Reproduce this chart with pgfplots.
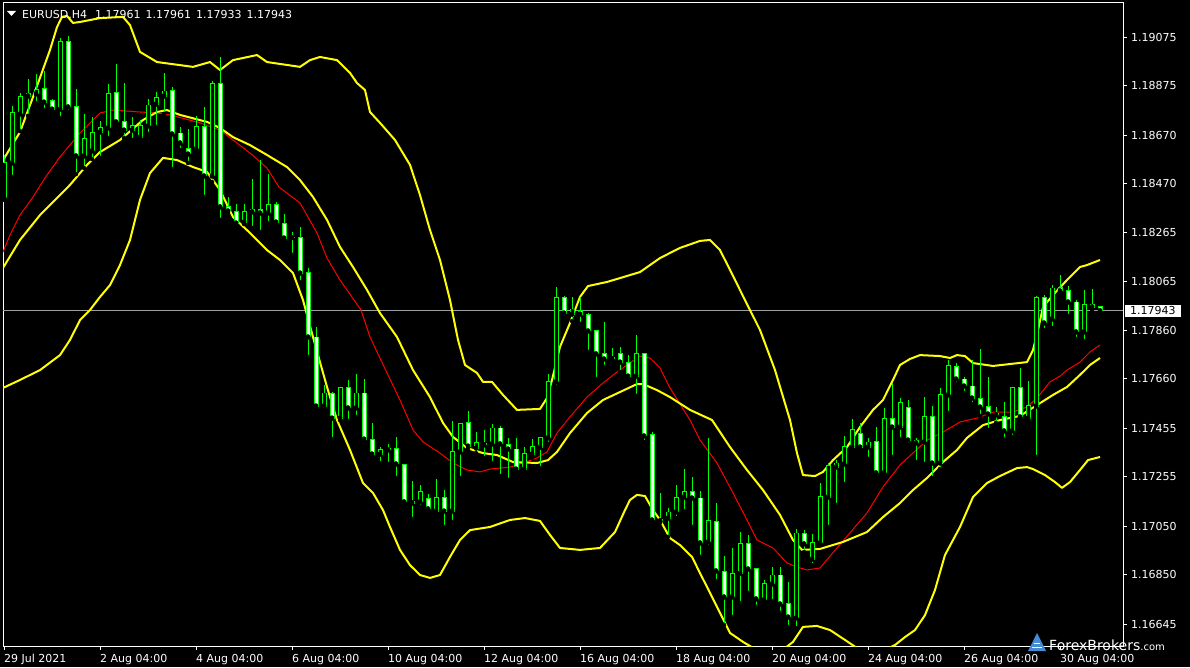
\documentclass[border=0pt]{standalone}
\usepackage{pgfplots}
\pgfplotsset{compat=1.18}
\usepackage{pgfplotstable}
\usepackage{fontspec}
\setmainfont{DejaVu Sans}
\newcommand{\lbl}{\fontsize{11}{13}\selectfont}
\definecolor{mtgreen}{RGB}{0,255,0}
\definecolor{mtyellow}{RGB}{255,255,0}
\definecolor{mtred}{RGB}{255,0,0}
\definecolor{pricegray}{RGB}{160,160,160}
\definecolor{fxblue}{RGB}{70,140,210}

\pgfplotstableread{
i O H L C
0 1.18410 1.18588 1.18402 1.18555
1 1.18555 1.18791 1.18497 1.18762
2 1.18758 1.18845 1.18687 1.18832
3 1.18832 1.18903 1.18750 1.18841
4 1.18841 1.18924 1.18803 1.18861
5 1.18865 1.18936 1.18774 1.18807
6 1.18812 1.18820 1.18766 1.18778
7 1.18778 1.19073 1.18741 1.19060
8 1.19060 1.19081 1.18766 1.18787
9 1.18787 1.18861 1.18509 1.18584
10 1.18584 1.18758 1.18534 1.18658
11 1.18605 1.18745 1.18571 1.18683
12 1.18683 1.18729 1.18576 1.18700
13 1.18700 1.18882 1.18658 1.18841
14 1.18845 1.18965 1.18708 1.18725
15 1.18725 1.18886 1.18658 1.18691
16 1.18691 1.18745 1.18650 1.18712
17 1.18662 1.18733 1.18650 1.18712
18 1.18708 1.18820 1.18675 1.18795
19 1.18799 1.18849 1.18704 1.18828
20 1.18832 1.18928 1.18758 1.18853
21 1.18857 1.18870 1.18530 1.18675
22 1.18679 1.18704 1.18609 1.18638
23 1.18613 1.18696 1.18555 1.18592
24 1.18613 1.18750 1.18600 1.18704
25 1.18704 1.18787 1.18414 1.18501
26 1.18501 1.18895 1.18476 1.18886
27 1.18886 1.18994 1.18319 1.18373
28 1.18373 1.18414 1.18348 1.18356
29 1.18352 1.18385 1.18298 1.18306
30 1.18310 1.18385 1.18302 1.18352
31 1.18352 1.18489 1.18286 1.18364
32 1.18364 1.18567 1.18269 1.18348
33 1.18348 1.18509 1.18306 1.18381
34 1.18381 1.18393 1.18294 1.18310
35 1.18306 1.18344 1.18236 1.18244
36 1.18248 1.18269 1.18174 1.18246
37 1.18248 1.18290 1.18062 1.18099
38 1.18103 1.18120 1.17751 1.17834
39 1.17834 1.17875 1.17532 1.17548
40 1.17548 1.17635 1.17540 1.17602
41 1.17598 1.17606 1.17411 1.17498
42 1.17498 1.17627 1.17490 1.17623
43 1.17623 1.17656 1.17486 1.17540
44 1.17540 1.17681 1.17503 1.17602
45 1.17602 1.17660 1.17395 1.17411
46 1.17411 1.17478 1.17333 1.17349
47 1.17349 1.17378 1.17312 1.17366
48 1.17374 1.17391 1.17308 1.17366
49 1.17374 1.17420 1.17250 1.17308
50 1.17304 1.17308 1.17142 1.17151
51 1.17151 1.17238 1.17080 1.17146
52 1.17151 1.17221 1.17130 1.17192
53 1.17163 1.17184 1.17105 1.17122
54 1.17113 1.17246 1.17105 1.17171
55 1.17171 1.17200 1.17047 1.17113
56 1.17113 1.17486 1.17068 1.17358
57 1.17358 1.17478 1.17250 1.17474
58 1.17478 1.17527 1.17370 1.17382
59 1.17374 1.17440 1.17353 1.17395
60 1.17387 1.17449 1.17333 1.17391
61 1.17391 1.17474 1.17312 1.17457
62 1.17457 1.17465 1.17258 1.17391
63 1.17387 1.17416 1.17242 1.17370
64 1.17370 1.17416 1.17275 1.17287
65 1.17287 1.17378 1.17271 1.17353
66 1.17349 1.17411 1.17333 1.17382
67 1.17378 1.17420 1.17291 1.17416
68 1.17416 1.17681 1.17391 1.17648
69 1.17648 1.18041 1.17627 1.17996
70 1.17996 1.18004 1.17913 1.17933
71 1.17929 1.18000 1.17900 1.17950
72 1.17942 1.18000 1.17888 1.17929
73 1.17929 1.17933 1.17772 1.17859
74 1.17859 1.17863 1.17660 1.17764
75 1.17764 1.17896 1.17710 1.17743
76 1.17743 1.17788 1.17730 1.17751
77 1.17764 1.17793 1.17689 1.17730
78 1.17730 1.17759 1.17660 1.17672
79 1.17672 1.17842 1.17590 1.17764
80 1.17764 1.17768 1.17399 1.17424
81 1.17432 1.17440 1.17072 1.17076
82 1.17076 1.17188 1.17064 1.17072
83 1.17084 1.17126 1.17006 1.17109
84 1.17109 1.17221 1.17084 1.17171
85 1.17171 1.17287 1.17113 1.17192
86 1.17192 1.17254 1.17047 1.17167
87 1.17167 1.17196 1.16923 1.16981
88 1.16985 1.17416 1.16964 1.17072
89 1.17068 1.17146 1.16823 1.16865
90 1.16861 1.16927 1.16641 1.16757
91 1.16757 1.16960 1.16674 1.16856
92 1.16856 1.17026 1.16732 1.16977
93 1.16977 1.17014 1.16774 1.16873
94 1.16873 1.16877 1.16716 1.16749
95 1.16745 1.16827 1.16736 1.16811
96 1.16811 1.16881 1.16740 1.16848
97 1.16848 1.16881 1.16691 1.16728
98 1.16728 1.16819 1.16633 1.16674
99 1.16670 1.17039 1.16628 1.17022
100 1.17018 1.17034 1.16943 1.16977
101 1.16914 1.17018 1.16889 1.16981
102 1.16981 1.17229 1.16972 1.17175
103 1.17171 1.17312 1.17047 1.17300
104 1.17295 1.17324 1.17138 1.17312
105 1.17308 1.17424 1.17225 1.17382
106 1.17378 1.17494 1.17370 1.17449
107 1.17436 1.17478 1.17370 1.17378
108 1.17378 1.17416 1.17329 1.17399
109 1.17403 1.17461 1.17258 1.17271
110 1.17271 1.17540 1.17262 1.17498
111 1.17498 1.17643 1.17337 1.17461
112 1.17461 1.17581 1.17411 1.17561
113 1.17540 1.17573 1.17387 1.17407
114 1.17407 1.17416 1.17316 1.17395
115 1.17399 1.17585 1.17308 1.17503
116 1.17503 1.17548 1.17250 1.17312
117 1.17312 1.17623 1.17287 1.17594
118 1.17594 1.17739 1.17519 1.17714
119 1.17710 1.17726 1.17639 1.17660
120 1.17660 1.17668 1.17602 1.17631
121 1.17631 1.17739 1.17556 1.17581
122 1.17581 1.17784 1.17507 1.17544
123 1.17548 1.17668 1.17449 1.17515
124 1.17519 1.17544 1.17478 1.17511
125 1.17503 1.17565 1.17411 1.17445
126 1.17445 1.17627 1.17420 1.17623
127 1.17623 1.17706 1.17494 1.17503
128 1.17498 1.17652 1.17486 1.17552
129 1.17548 1.18004 1.17337 1.17996
130 1.17996 1.18008 1.17863 1.17892
131 1.17909 1.18049 1.17871 1.18037
132 1.18041 1.18091 1.18008 1.18025
133 1.18025 1.18045 1.17921 1.17979
134 1.17979 1.17987 1.17826 1.17855
135 1.17855 1.18029 1.17817 1.17967
136 1.17967 1.18033 1.17946 1.17958
137 1.17961 1.17961 1.17933 1.17943
}\candles

\pgfplotstableread{
i p
-0.125 1.18559
0.125 1.18580
2 1.18683
3.625 1.18828
5.75 1.19023
6.625 1.19118
7.25 1.19160
7.875 1.19164
8.625 1.19135
9.5 1.19139
12 1.19155
14.875 1.19160
15.75 1.19126
17 1.19015
19.125 1.18973
23.625 1.18953
25.75 1.18973
27 1.18940
28.625 1.18981
31.625 1.19002
32.875 1.18973
37 1.18953
38.25 1.18981
39.5 1.18994
41.625 1.18981
43.25 1.18928
44.125 1.18886
45.125 1.18857
45.75 1.18766
47 1.18721
48.875 1.18650
50.75 1.18547
52 1.18422
53.25 1.18277
54.5 1.18153
55.75 1.17987
56.75 1.17822
57.625 1.17718
59.125 1.17685
59.875 1.17648
61 1.17648
62.375 1.17594
64.125 1.17532
67 1.17536
67.875 1.17581
68.5 1.17656
69.5 1.17793
70.75 1.17892
72 1.18000
73 1.18045
75.375 1.18062
77 1.18078
79.5 1.18103
82 1.18161
84.5 1.18203
87 1.18232
88.25 1.18236
89.5 1.18194
90.75 1.18112
92.625 1.17987
94.5 1.17863
96.375 1.17697
98.25 1.17490
99.125 1.17353
99.875 1.17262
101.375 1.17258
102.375 1.17275
103.625 1.17324
105.375 1.17378
107 1.17461
108.625 1.17532
109.875 1.17573
111.125 1.17656
112 1.17718
113.25 1.17743
114.5 1.17759
117 1.17755
118.25 1.17747
119.125 1.17759
120.125 1.17755
121.125 1.17726
123.625 1.17714
125.75 1.17722
127.875 1.17730
128.625 1.17780
129.25 1.17863
129.875 1.17958
131.125 1.18008
132.875 1.18070
134.5 1.18124
135.375 1.18132
137 1.18153
}\upperband

\pgfplotstableread{
i p
-0.125 1.18120
2 1.18236
4.5 1.18339
6.75 1.18414
8.25 1.18464
10.375 1.18547
12 1.18600
14.5 1.18650
17.375 1.18733
19.125 1.18766
20.375 1.18774
22 1.18754
25.375 1.18725
27 1.18700
28.625 1.18662
30.75 1.18629
32.875 1.18588
35.375 1.18538
37 1.18484
38.625 1.18414
40.375 1.18319
42 1.18207
43.625 1.18124
45.375 1.18029
47 1.17933
49.125 1.17834
51.125 1.17697
53.25 1.17585
54.875 1.17478
56.125 1.17420
57.875 1.17374
59.875 1.17353
61.625 1.17345
63.625 1.17316
66.625 1.17312
68 1.17324
69.125 1.17358
70.75 1.17436
72.875 1.17519
74.875 1.17573
77 1.17606
79.125 1.17639
79.875 1.17639
81.625 1.17614
83.25 1.17585
85.75 1.17532
88.5 1.17490
90.75 1.17378
92.875 1.17283
94.875 1.17200
97 1.17097
98.625 1.16993
99.75 1.16952
102 1.16956
104.875 1.16985
107.875 1.17026
109.875 1.17088
112 1.17146
113.625 1.17200
115.375 1.17250
117.375 1.17316
119.125 1.17366
120.375 1.17416
122.375 1.17469
124.5 1.17490
127 1.17507
129.125 1.17552
131.125 1.17594
132.875 1.17627
134.5 1.17677
135.75 1.17718
137 1.17747
}\midband

\pgfplotstableread{
i p
-0.125 1.17623
2 1.17656
4.5 1.17697
7 1.17759
8.25 1.17822
9.5 1.17904
10.75 1.17946
12 1.18000
13.25 1.18049
14.5 1.18132
15.75 1.18236
17 1.18402
18.25 1.18513
19.875 1.18576
21.625 1.18567
23.625 1.18538
25.375 1.18518
27 1.18443
28.625 1.18331
30.75 1.18265
32.875 1.18194
34.5 1.18153
36.125 1.18099
37.375 1.17987
38.625 1.17834
39.5 1.17730
40.375 1.17627
41.625 1.17490
43.25 1.17366
44.875 1.17229
46.125 1.17188
47.375 1.17117
48.25 1.17047
49.5 1.16952
50.75 1.16889
52 1.16848
53.25 1.16836
54.5 1.16848
55.75 1.16923
57 1.16993
58.25 1.17034
60.75 1.17047
63.25 1.17076
65.125 1.17084
67 1.17072
68.25 1.17014
69.5 1.16960
72 1.16952
74.5 1.16960
76.375 1.17026
77.625 1.17117
78.25 1.17159
79.125 1.17180
80.125 1.17175
81.125 1.17117
82 1.17076
83.25 1.17001
84.5 1.16972
86 1.16923
87 1.16856
88.25 1.16774
89.5 1.16691
90.75 1.16608
92.375 1.16571
94.5 1.16529
97 1.16529
98.625 1.16571
99.875 1.16633
101.625 1.16637
103.25 1.16620
105.125 1.16579
107 1.16537
109.5 1.16529
111.375 1.16558
112.625 1.16591
113.875 1.16620
115.125 1.16682
116.375 1.16786
117.625 1.16931
119.5 1.17047
121.125 1.17171
122.875 1.17229
124.5 1.17258
126.625 1.17291
127.875 1.17295
128.625 1.17287
130.125 1.17262
131.375 1.17233
132.25 1.17209
133.25 1.17233
134.5 1.17283
135.5 1.17324
137 1.17337
}\lowerband

\pgfplotstableread{
i p
-0.125 1.18186
0.75 1.18257
2 1.18339
3.625 1.18414
5.125 1.18493
7 1.18580
9.5 1.18679
12 1.18762
13.625 1.18774
17 1.18766
19.125 1.18762
20.75 1.18754
24.5 1.18721
27 1.18691
28.625 1.18650
30.75 1.18596
32.875 1.18534
34.375 1.18455
37 1.18389
39.125 1.18265
40.375 1.18161
42 1.18070
44.625 1.17946
45.75 1.17834
47.875 1.17685
49.5 1.17573
51.125 1.17449
52.375 1.17399
54.5 1.17353
56.125 1.17312
57.875 1.17283
59.5 1.17275
60.75 1.17287
63.25 1.17295
64.875 1.17312
66.625 1.17333
67.875 1.17358
69.125 1.17436
70.75 1.17503
72.875 1.17585
74.875 1.17643
76.625 1.17689
78.25 1.17726
79.5 1.17755
80.75 1.17747
82 1.17706
83.25 1.17623
85.75 1.17490
87 1.17407
89.125 1.17312
91.125 1.17188
92.875 1.17076
94.125 1.16993
96.125 1.16960
97.875 1.16898
99.125 1.16881
100.375 1.16869
102 1.16877
104.125 1.16960
107.875 1.17105
109.875 1.17213
112 1.17304
113.625 1.17353
115.375 1.17407
117.375 1.17440
119.5 1.17482
121.625 1.17498
123.625 1.17523
126.125 1.17523
127.875 1.17544
129.125 1.17581
130.75 1.17648
132 1.17672
132.875 1.17697
134.5 1.17730
135.75 1.17772
137 1.17801
}\redline

\begin{document}
\begin{tikzpicture}
\fill[black] (-3pt,-21pt) rectangle (1187pt,646pt);
\begin{axis}[
  at={(0pt,0pt)}, anchor=south west,
  scale only axis, width=1120pt, height=643pt,
  xmin=-0.125, xmax=139.875, ymin=1.165539, ymax=1.192176,
  axis line style={white, line width=1pt},
  clip mode=individual,
  xtick={0,12,24,36,48,60,72,84,96,108,120,132},
  xticklabels={29 Jul 2021, 2 Aug 04:00, 4 Aug 04:00, 6 Aug 04:00, 10 Aug 04:00, 12 Aug 04:00, 16 Aug 04:00, 18 Aug 04:00, 20 Aug 04:00, 24 Aug 04:00, 26 Aug 04:00, 30 Aug 04:00},
  xtick pos=bottom, xtick align=outside,
  ytick={1.16645,1.16850,1.17050,1.17255,1.17455,1.17660,1.17860,1.18065,1.18265,1.18470,1.18670,1.18875,1.19075},
  yticklabels={1.16645,1.16850,1.17050,1.17255,1.17455,1.17660,1.17860,1.18065,1.18265,1.18470,1.18670,1.18875,1.19075},
  ytick pos=right, yticklabel pos=right, ytick align=outside,
  major tick length=4pt,
  tick style={white, line width=1pt},
  xticklabel style={anchor=north west, inner sep=0pt, text=white, font=\lbl, yshift=-4pt},
  yticklabel style={anchor=west, inner sep=0pt, text=white, font=\lbl, xshift=4pt},
]
% current price line
\addplot[pricegray, line width=1pt, forget plot] coordinates {(-0.125,1.17943) (139.875,1.17943)};
% indicator lines
\addplot[mtred, line width=1pt, line join=round, forget plot] table[x=i, y=p] {\redline};
\addplot[mtyellow, line width=2pt, line join=round, forget plot] table[x=i, y=p] {\upperband};
\addplot[mtyellow, line width=2pt, line join=round, forget plot] table[x=i, y=p] {\midband};
\addplot[mtyellow, line width=2pt, line join=round, forget plot] table[x=i, y=p] {\lowerband};
% wicks
\addplot[only marks, mark=none, forget plot,
  error bars/.cd, y dir=plus, y explicit, error mark=none,
  error bar style={line width=1pt, draw=mtgreen}]
  table[x=i, y=L, y error expr=\thisrow{H}-\thisrow{L}] {\candles};
% body outlines
\addplot[only marks, mark=none, forget plot,
  error bars/.cd, y dir=plus, y explicit, error mark=none,
  error bar style={line width=5pt, draw=mtgreen}]
  table[x=i, y expr={min(\thisrow{O},\thisrow{C})-0.00002}, y error expr={abs(\thisrow{C}-\thisrow{O})+0.00004}] {\candles};
% bull body interior
\addplot[only marks, mark=none, forget plot,
  error bars/.cd, y dir=plus, y explicit, error mark=none,
  error bar style={line width=3pt, draw=black}]
  table[x=i, y expr={min(\thisrow{O},\thisrow{C})+0.00002}, y error expr={max(abs(\thisrow{C}-\thisrow{O})-0.00004,0)}] {\candles};
% bear body interior
\addplot[only marks, mark=none, forget plot,
  error bars/.cd, y dir=plus, y explicit, error mark=none,
  error bar style={line width=3pt, draw=white}]
  table[x=i, y expr={min(\thisrow{O},\thisrow{C})+0.00002}, y error expr={ifthenelse(\thisrow{C}<\thisrow{O}, max(\thisrow{O}-\thisrow{C}-0.00004,0), 0)}] {\candles};
\node[fill=white, text=black, anchor=west, inner xsep=5pt, inner ysep=2pt, font=\lbl, xshift=2pt] at (axis cs:139.875,1.17943) {1.17943};
\end{axis}
% title
\fill[white] (4pt,635pt) -- (13pt,635pt) -- (8.5pt,630pt) -- cycle;
\node[anchor=base west, inner sep=0pt, text=white, font=\lbl] at (19pt,627.7pt) {EURUSD,H4\hspace{8pt}1.17961\hspace{5pt}1.17961\hspace{5pt}1.17933\hspace{5pt}1.17943};
% watermark
\fill[fxblue] (1025pt,-5pt) -- (1043pt,-5pt) -- (1034pt,13pt) -- cycle;
\draw[white, line width=0.8pt] (1029pt,-1pt) -- (1039pt,-1pt) (1031pt,3pt) -- (1037pt,3pt);
\node[anchor=base west, inner sep=0pt, text=white] at (1046pt,-4.5pt) {\fontsize{14}{16}\selectfont ForexBrokers\fontsize{10}{12}\selectfont.com};
\pgfresetboundingbox
\useasboundingbox (-3pt,-21pt) rectangle (1187pt,646pt);
\end{tikzpicture}
\end{document}
